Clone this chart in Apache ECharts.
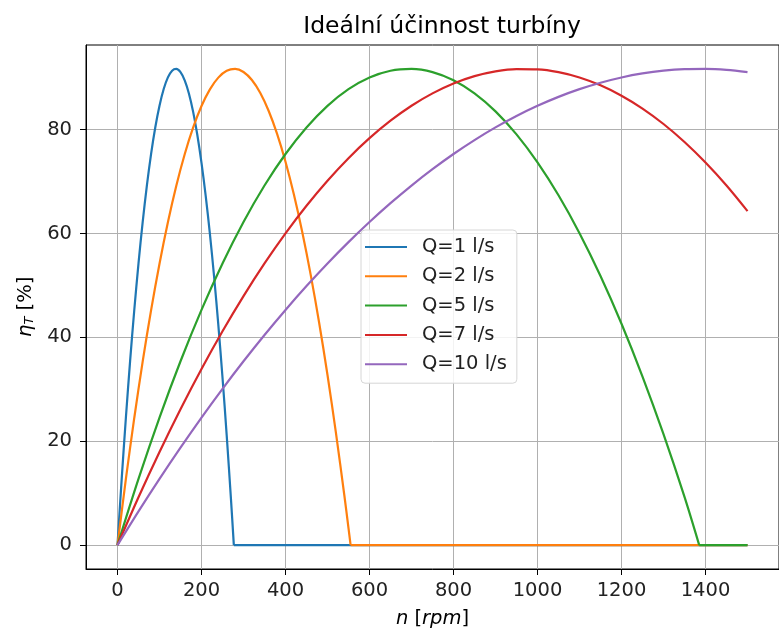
<!DOCTYPE html>
<html>
<head>
<meta charset="utf-8">
<script src="https://cdn.jsdelivr.net/npm/echarts@6/dist/echarts.min.js"></script>
<style>
  html, body { margin: 0; padding: 0; background: #fff; }
  #chart { width: 779px; height: 635px; }
</style>
</head>
<body>
<div id="chart"></div>
<script>
// otacky [rpm] a ucinnost [%] (posledni bod = kde krivka spadne na 0)
var nQ1 = [0, 10, 20, 30, 40, 50, 60, 70, 80, 90, 100, 110, 120, 130, 140, 150, 160, 170, 180, 190, 200, 210, 220, 230, 240, 250, 260, 270, 277];
var etaQ1 = [0, 12.76, 24.57, 35.42, 45.32, 54.26, 62.24, 69.27, 75.34, 80.46, 84.61, 87.82, 90.06, 91.36, 91.69, 91.07, 89.49, 86.96, 83.47, 79.02, 73.62, 67.26, 59.95, 51.68, 42.45, 32.27, 21.13, 9.04, 0];

var nQ2 = [0, 20, 40, 60, 80, 100, 120, 140, 160, 180, 200, 220, 240, 260, 280, 300, 320, 340, 360, 380, 400, 420, 440, 460, 480, 500, 520, 540, 550, 555];
var etaQ2 = [0, 12.74, 24.53, 35.37, 45.25, 54.18, 62.16, 69.19, 75.26, 80.38, 84.55, 87.76, 90.02, 91.33, 91.69, 91.10, 89.55, 87.05, 83.59, 79.19, 73.83, 67.52, 60.25, 52.04, 42.87, 32.75, 21.67, 9.65, 3.27, 0];

var nQ5 = [0, 50, 100, 150, 200, 250, 300, 350, 400, 450, 500, 550, 600, 650, 700, 750, 800, 850, 900, 950, 1000, 1050, 1100, 1150, 1200, 1250, 1300, 1350, 1385];
var etaQ5 = [0, 12.75, 24.56, 35.40, 45.29, 54.23, 62.21, 69.24, 75.31, 80.43, 84.59, 87.80, 90.05, 91.35, 91.69, 91.08, 89.51, 86.99, 83.52, 79.09, 73.70, 67.36, 60.07, 51.82, 42.62, 32.46, 21.35, 9.28, 0];

var nQ7 = [0, 50, 100, 150, 200, 250, 300, 350, 400, 450, 500, 550, 600, 650, 700, 750, 800, 850, 900, 950, 1000, 1050, 1100, 1150, 1200, 1250, 1300, 1350, 1400, 1450, 1500];
var etaQ7 = [0, 9.21, 17.93, 26.17, 33.92, 41.18, 47.95, 54.24, 60.04, 65.35, 70.17, 74.51, 78.36, 81.72, 84.60, 86.98, 88.88, 90.30, 91.22, 91.66, 91.61, 91.08, 90.05, 88.54, 86.54, 84.06, 81.09, 77.63, 73.68, 69.25, 64.32];

var nQ10 = [0, 50, 100, 150, 200, 250, 300, 350, 400, 450, 500, 550, 600, 650, 700, 750, 800, 850, 900, 950, 1000, 1050, 1100, 1150, 1200, 1250, 1300, 1350, 1400, 1450, 1500];
var etaQ10 = [0, 6.50, 12.76, 18.77, 24.56, 30.10, 35.40, 40.47, 45.29, 49.88, 54.23, 58.34, 62.21, 65.84, 69.24, 72.39, 75.31, 77.99, 80.43, 82.63, 84.59, 86.31, 87.80, 89.04, 90.05, 90.82, 91.35, 91.64, 91.69, 91.51, 91.08];

var nMax = 1500; // za nulou zustava ucinnost 0 az do konce
var seriesNames = ['Q=1 l/s', 'Q=2 l/s', 'Q=5 l/s', 'Q=7 l/s', 'Q=10 l/s'];
var xTicks = [0, 200, 400, 600, 800, 1000, 1200, 1400];
var yTicks = [0, 20, 40, 60, 80];
var colors = ['#1f77b4', '#ff7f0e', '#2ca02c', '#d62728', '#9467bd'];

function zip(xs, ys) {
  return xs.map(function (x, i) { return [x, ys[i]]; });
}

var chart = echarts.init(document.getElementById('chart'), null, { renderer: 'canvas' });
var font = 'DejaVu Sans';
var curves = [[nQ1, etaQ1], [nQ2, etaQ2], [nQ5, etaQ5], [nQ7, etaQ7], [nQ10, etaQ10]];

// kazda krivka: hladka cast + rovny usek na nule (jen kdyz krivka na nulu spadne)
var series = [];
curves.forEach(function (c, i) {
  var xs = c[0], ys = c[1];
  series.push({
    name: seriesNames[i],
    type: 'line',
    data: zip(xs, ys),
    smooth: 0.33,
    showSymbol: false,
    symbol: 'none',
    lineStyle: { width: 2.2, color: colors[i] },
    itemStyle: { color: colors[i] }
  });
  var lastX = xs[xs.length - 1];
  if (lastX < nMax) {
    series.push({
      name: seriesNames[i],
      type: 'line',
      data: [[lastX, 0], [nMax, 0]],
      showSymbol: false,
      symbol: 'none',
      lineStyle: { width: 2.2, color: colors[i] },
      itemStyle: { color: colors[i] }
    });
  }
});

var option = {
  animation: false,
  color: colors,
  textStyle: { fontFamily: font, color: '#000' },
  title: {
    text: 'Ideální účinnost turbíny',
    left: 437,
    textAlign: 'center',
    top: 10,
    textStyle: { fontFamily: font, fontSize: 23.5, fontWeight: 'normal', color: '#000' }
  },
  grid: {
    left: 86, top: 45, right: -11, bottom: 66,
    show: true, borderColor: '#000', borderWidth: 1, backgroundColor: 'transparent'
  },
  legend: {
    orient: 'vertical',
    left: 361, top: 230,
    padding: [6, 10, 8, 4],
    itemWidth: 42, itemHeight: 2, itemGap: 7.3,
    icon: 'rect',
    backgroundColor: 'rgba(255,255,255,0.85)',
    borderColor: '#d6d6d6', borderWidth: 1, borderRadius: 4,
    textStyle: { fontFamily: font, fontSize: 19.5, color: '#222', lineHeight: 22, padding: [0, 0, 0, 10] },
    data: seriesNames
  },
  xAxis: {
    type: 'value',
    min: -75, max: 1575,
    name: '{i|n} [{i|rpm}]',
    nameLocation: 'middle',
    nameGap: 40,
    nameTextStyle: {
      fontFamily: font, fontSize: 19.5, color: '#000',
      rich: { i: { fontFamily: font, fontSize: 19.5, fontStyle: 'italic', color: '#000' } }
    },
    axisLine: { onZero: false, lineStyle: { color: '#000', width: 1 } },
    axisTick: { show: true, length: 6, lineStyle: { color: '#000' }, customValues: xTicks },
    axisLabel: {
      fontFamily: font, fontSize: 19.5, color: '#222', margin: 12, customValues: xTicks,
      formatter: function (v) { return String(v); }
    },
    splitLine: { show: true, lineStyle: { color: '#b0b0b0', width: 1 } }
  },
  yAxis: {
    type: 'value',
    min: -4.6, max: 96.3,
    name: '{i|η}{s|T} [%]',
    nameLocation: 'middle',
    nameRotate: 90,
    nameGap: 50,
    nameTextStyle: {
      fontFamily: font, fontSize: 19.5, color: '#000',
      rich: {
        i: { fontFamily: font, fontSize: 20, fontStyle: 'italic', color: '#000' },
        s: { fontFamily: font, fontSize: 13, fontStyle: 'italic', color: '#000', padding: [8, 0, 0, 0] }
      }
    },
    axisLine: { show: true, onZero: false, lineStyle: { color: '#000', width: 1 } },
    axisTick: { show: true, length: 6, lineStyle: { color: '#000' }, customValues: yTicks },
    axisLabel: {
      fontFamily: font, fontSize: 19.5, color: '#222', margin: 14, customValues: yTicks,
      formatter: function (v) { return String(v); }
    },
    splitLine: { show: true, lineStyle: { color: '#b0b0b0', width: 1 } }
  },
  series: series
};

chart.setOption(option);
</script>
</body>
</html>
